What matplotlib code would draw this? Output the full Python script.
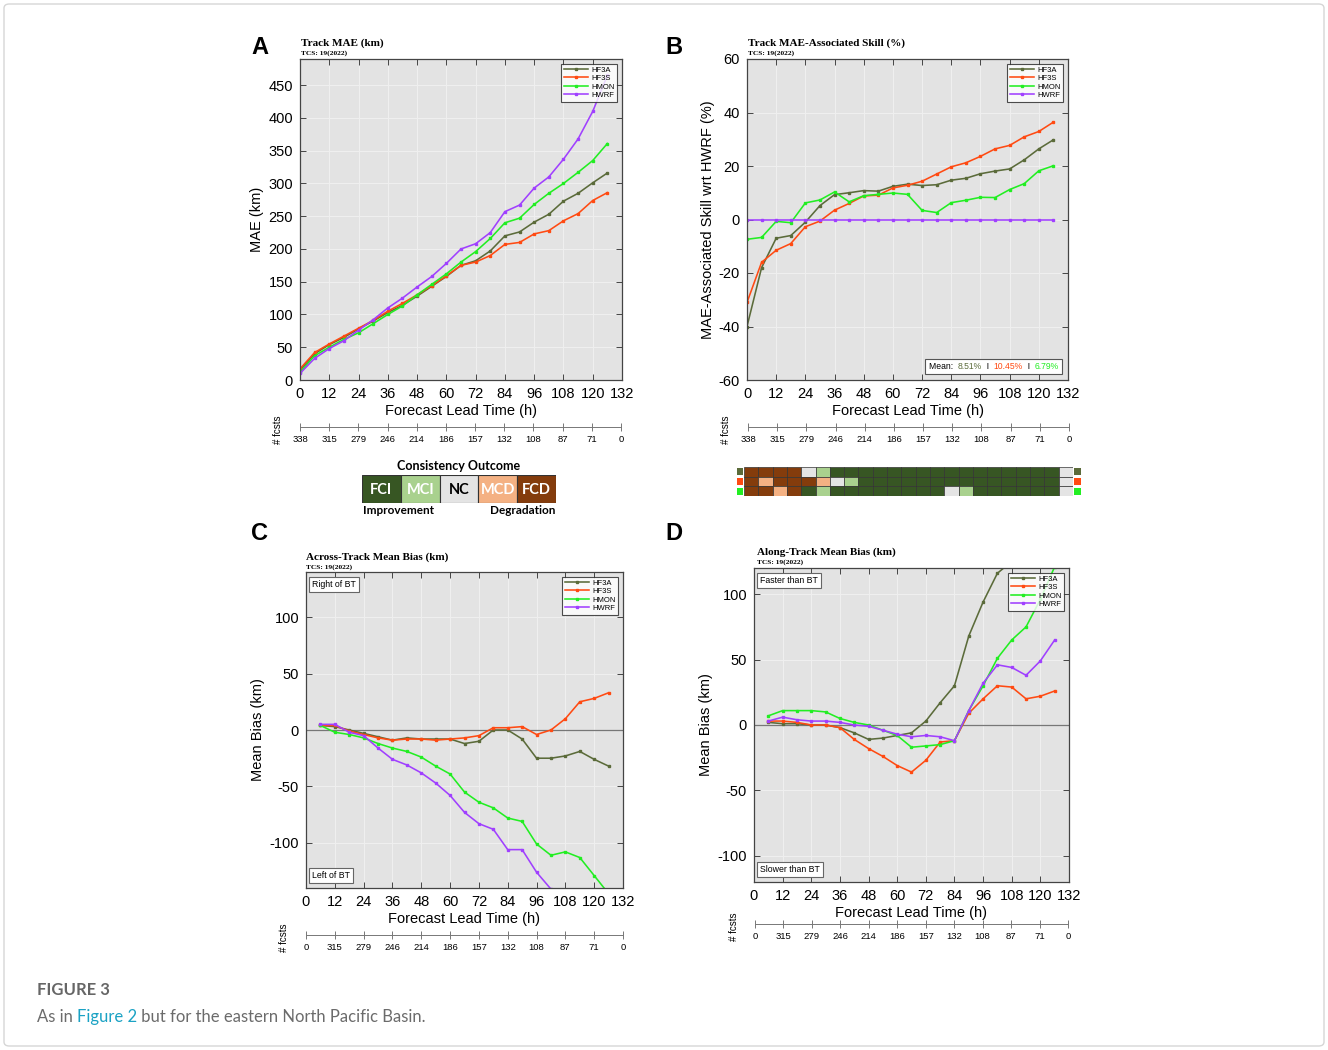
import matplotlib
matplotlib.use('Agg')
import matplotlib.pyplot as plt
from matplotlib.patches import Rectangle, FancyBboxPatch
from matplotlib.offsetbox import AnchoredOffsetbox, HPacker, TextArea

W, H = 1328, 1050

# ---- data ----
models = ['HF3A', 'HF3S', 'HMON', 'HWRF']
model_colors = ['#5b6b3a', '#ff4a12', '#22ee22', '#a040ff']

hours = list(range(0, 127, 6))
hours_bias = list(range(6, 127, 6))
tick_hours = list(range(0, 133, 12))
fcsts = ['338', '315', '279', '246', '214', '186', '157', '132', '108', '87', '71', '0']
fcsts_bias = ['0', '315', '279', '246', '214', '186', '157', '132', '108', '87', '71', '0']

# track MAE (km)
mae_hf3a = [15, 40, 54, 65, 78, 90, 103, 114, 128, 143, 158, 175, 182, 197, 220, 226, 241, 253, 273, 285, 301, 316]
mae_hf3s = [17, 42, 55, 67, 79, 91, 105, 117, 130, 144, 159, 175, 180, 190, 207, 210, 223, 228, 243, 254, 274, 286]
mae_hmon = [12, 37, 50, 62, 72, 86, 100, 113, 130, 146, 162, 180, 196, 216, 240, 247, 268, 285, 300, 317, 335, 361]
mae_hwrf = [10, 33, 48, 60, 76, 92, 110, 125, 142, 158, 178, 200, 208, 225, 257, 267, 293, 310, 337, 368, 410, 465]

# skill wrt HWRF (%)
skill_hf3a = [-40, -18, -7, -6, -1, 5.2, 9.3, 10, 10.8, 10.6, 12.4, 13.2, 12.7, 13, 14.7, 15.4, 17.1, 18.1, 18.9, 22.3, 26.4, 29.8]
skill_hf3s = [-31, -16, -11.5, -9, -2.7, -0.6, 3.5, 6, 8.8, 9.1, 11.8, 12.8, 14.3, 17, 19.7, 21.2, 23.6, 26.4, 27.7, 30.9, 32.9, 36.4]
skill_hmon = [-7.4, -6.7, -0.7, -1.2, 6.2, 7.3, 10.3, 6.6, 8.9, 9.4, 9.9, 9.4, 3.4, 2.6, 6.3, 7.2, 8.3, 8.2, 11.2, 13.4, 18.2, 20.1]
skill_hwrf = [0] * 22
skill_means = ['8.51%', '10.45%', '6.79%']

# consistency outcomes, 0..132 h
outcome_hf3a = ['FCD'] * 4 + ['NC', 'MCI'] + ['FCI'] * 16 + ['NC']
outcome_hf3s = ['FCD', 'MCD', 'FCD', 'FCD', 'FCD', 'MCD', 'NC', 'MCI'] + ['FCI'] * 14 + ['NC']
outcome_hmon = ['FCD', 'FCD', 'MCD', 'FCD', 'FCI', 'MCI'] + ['FCI'] * 8 + ['NC', 'MCI'] + ['FCI'] * 6 + ['NC']
outcome_names = ['FCI', 'MCI', 'NC', 'MCD', 'FCD']
outcome_colors = {'FCI': '#375623', 'MCI': '#a9d18e', 'NC': '#e4e4e4', 'MCD': '#f4b183', 'FCD': '#843c0c'}

# across-track bias (km), 6..126 h
ct_hf3a = [4, 3, 0, -3, -6, -9, -7, -8, -8, -8, -12, -10, 0, 0, -8, -25, -25, -23, -19, -26, -32]
ct_hf3s = [4, 4, -1, -4, -7, -9, -8, -8, -9, -8, -7, -5, 2, 2, 3, -4, 0, 10, 25, 28, 33]
ct_hmon = [4, -2, -4, -7, -12, -16, -19, -24, -32, -39, -55, -64, -69, -78, -81, -101, -111, -108, -113, -129, -145]
ct_hwrf = [5, 5, -2, -5, -16, -26, -31, -38, -47, -58, -73, -83, -88, -106, -106, -126, -141]

# along-track bias (km), 6..126 h
at_hf3a = [2, 1, 1, 0, 0, -2, -6, -11, -10, -8, -6, 3, 17, 30, 68, 94, 116, 125]
at_hf3s = [3, 3, 2, 0, 0, -2, -11, -18, -24, -31, -36, -27, -13, -12, 9, 20, 30, 29, 20, 22, 26]
at_hmon = [7, 11, 11, 11, 10, 5, 2, 0, -4, -8, -17, -16, -15, -12, 11, 30, 51, 65, 75, 96, 121]
at_hwrf = [3, 6, 4, 3, 3, 2, 0, -1, -4, -7, -9, -8, -9, -12, 11, 32, 46, 44, 38, 49, 65]

SANS = 'Liberation Sans'
SERIF = 'Liberation Serif'
plt.rcParams['font.family'] = SANS
plt.rcParams['axes.unicode_minus'] = False


def box(x0, y0, x1, y1):
    return [x0 / W, 1 - y1 / H, (x1 - x0) / W, (y1 - y0) / H]


fig = plt.figure(figsize=(W / 100, H / 100), dpi=100)

# light frame round the figure
fig.patches.append(FancyBboxPatch((4 / W, 4 / H), 1 - 8 / W, 1 - 8 / H,
                                  boxstyle='round,pad=0,rounding_size=0.004',
                                  transform=fig.transFigure, fc='none', ec='#d6d6d6', lw=1))


def style(ax, ylim, yticks, ylabel):
    ax.set_facecolor('#e3e3e3')
    ax.set_xlim(0, 132)
    ax.set_xticks(tick_hours)
    ax.set_ylim(*ylim)
    ax.set_yticks(yticks)
    ax.grid(True, color='#f0f0f0', lw=0.7)
    ax.set_axisbelow(True)
    ax.tick_params(direction='in', top=True, right=True, length=4, width=0.7,
                   labelsize=10.5, pad=5, color='#444')
    for s in ax.spines.values():
        s.set_color('#444')
        s.set_linewidth(0.9)
    ax.set_xlabel('Forecast Lead Time (h)', fontsize=10.5, labelpad=2)
    ax.set_ylabel(ylabel, fontsize=10.5, labelpad=3)


def draw_lines(ax, xs_list, ys_list):
    for name, col, xs, ys in zip(models, model_colors, xs_list, ys_list):
        ax.plot(xs, ys, color=col, lw=1.15, marker='s', ms=1.7, label=name)
    leg = ax.legend(loc='upper right', fontsize=5.5, frameon=True, fancybox=False,
                    borderpad=0.35, labelspacing=0.15, handlelength=3.2,
                    handletextpad=0.4, borderaxespad=0.6)
    leg.get_frame().set_edgecolor('#222')
    leg.get_frame().set_linewidth(0.8)
    leg.set_zorder(10)


def titles(x, y, text):
    fig.text(x / W, 1 - y / H, text, fontsize=8, fontweight='bold', family=SERIF, va='center')
    fig.text(x / W, 1 - (y + 10) / H, 'TCS: 19(2022)', fontsize=5.3, fontweight='bold',
             family=SERIF, va='center')


def fcsts_axis(x0, x1, y, labels, lab_x):
    ax = fig.add_axes(box(x0, y - 0.5, x1, y + 0.5))
    ax.set_xlim(0, 132)
    ax.set_xticks(tick_hours)
    ax.set_xticklabels(labels)
    ax.set_yticks([])
    ax.patch.set_visible(False)
    for s in ['top', 'left', 'right']:
        ax.spines[s].set_visible(False)
    ax.spines['bottom'].set_color('#777')
    ax.spines['bottom'].set_linewidth(0.7)
    ax.tick_params(axis='x', direction='inout', length=6, width=0.7, color='#777',
                   labelsize=6.8, pad=3)
    fig.text(lab_x / W, 1 - (y + 4) / H, '# fcsts', rotation=90, fontsize=7,
             ha='center', va='center')


def corner_note(ax, text, where):
    y, va = (0.975, 'top') if where == 'top' else (0.025, 'bottom')
    ax.text(0.02, y, text, transform=ax.transAxes, fontsize=6.3, va=va, ha='left', zorder=12,
            bbox=dict(boxstyle='square,pad=0.35', fc='white', ec='#666', lw=0.8))


# ---- panel A ----
axA = fig.add_axes(box(300, 59, 622, 380))
style(axA, (0, 490), range(0, 451, 50), 'MAE (km)')
draw_lines(axA, [hours] * 4, [mae_hf3a, mae_hf3s, mae_hmon, mae_hwrf])
titles(301, 43, 'Track MAE (km)')
fcsts_axis(300, 621, 426, fcsts, 278)

# ---- panel B ----
axB = fig.add_axes(box(747, 59, 1068, 380))
style(axB, (-60, 60), range(-60, 61, 20), 'MAE-Associated Skill wrt HWRF (%)')
draw_lines(axB, [hours] * 4, [skill_hf3a, skill_hf3s, skill_hmon, skill_hwrf])
titles(748, 43, 'Track MAE-Associated Skill (%)')
fcsts_axis(748, 1069, 426, fcsts, 726)

parts = [('Mean:  ', 'black')]
for m, col in zip(skill_means, model_colors[:3]):
    if len(parts) > 1:
        parts.append(('  I  ', 'black'))
    parts.append((m, col))
packer = HPacker(children=[TextArea(t, textprops=dict(color=c, fontsize=6.2)) for t, c in parts],
                 align='baseline', pad=0, sep=0)
mean_box = AnchoredOffsetbox(loc='lower right', child=packer, pad=0.25, borderpad=0.4, frameon=True)
mean_box.patch.set_edgecolor('#555')
mean_box.patch.set_linewidth(0.8)
mean_box.set_zorder(11)
axB.add_artist(mean_box)

# ---- consistency scorecard under B ----
axS = fig.add_axes(box(744, 467, 1073, 496))
axS.set_xlim(0, 23)
axS.set_ylim(3, 0)
axS.axis('off')
for r, (row, col) in enumerate(zip([outcome_hf3a, outcome_hf3s, outcome_hmon], model_colors)):
    for c, code in enumerate(row):
        axS.add_patch(Rectangle((c, r), 1, 1, fc=outcome_colors[code], ec='#333', lw=0.5))
    for xm in (-0.5, 23.08):
        axS.add_patch(Rectangle((xm, r + 0.15), 0.45, 0.7, fc=col, ec='none', clip_on=False))

# ---- consistency legend ----
axL = fig.add_axes(box(362, 475, 556, 503))
axL.set_xlim(0, 5)
axL.set_ylim(0, 1)
axL.axis('off')
for i, name in enumerate(outcome_names):
    axL.add_patch(Rectangle((i, 0), 1, 1, fc=outcome_colors[name], ec='#333', lw=0.8))
    axL.text(i + 0.5, 0.47, name, ha='center', va='center', fontsize=10.5, fontweight='bold',
             family='Lato', color='black' if name == 'NC' else 'white')
fig.text(459 / W, 1 - 466 / H, 'Consistency Outcome', ha='center', va='center',
         fontsize=9, fontweight='bold', family='Lato')
fig.text(363 / W, 1 - 511 / H, 'Improvement', ha='left', va='center',
         fontsize=8.5, fontweight='bold', family='Lato')
fig.text(555 / W, 1 - 511 / H, 'Degradation', ha='right', va='center',
         fontsize=8.5, fontweight='bold', family='Lato')

# ---- panel C ----
axC = fig.add_axes(box(306, 572, 623, 888))
style(axC, (-140, 140), range(-100, 101, 50), 'Mean Bias (km)')
draw_lines(axC, [hours_bias[:len(v)] for v in (ct_hf3a, ct_hf3s, ct_hmon, ct_hwrf)],
           [ct_hf3a, ct_hf3s, ct_hmon, ct_hwrf])
axC.axhline(0, color='#777', lw=0.9, zorder=1.5)
corner_note(axC, 'Right of BT', 'top')
corner_note(axC, 'Left of BT', 'bottom')
titles(306, 557, 'Across-Track Mean Bias (km)')
fcsts_axis(306, 623, 934, fcsts_bias, 284)

# ---- panel D ----
axD = fig.add_axes(box(754, 568, 1069, 882))
style(axD, (-120, 120), range(-100, 101, 50), 'Mean Bias (km)')
draw_lines(axD, [hours_bias[:len(v)] for v in (at_hf3a, at_hf3s, at_hmon, at_hwrf)],
           [at_hf3a, at_hf3s, at_hmon, at_hwrf])
axD.axhline(0, color='#777', lw=0.9, zorder=1.5)
corner_note(axD, 'Faster than BT', 'top')
corner_note(axD, 'Slower than BT', 'bottom')
titles(757, 552, 'Along-Track Mean Bias (km)')
fcsts_axis(755, 1068, 923, fcsts_bias, 734)

# ---- panel letters ----
for letter, x, y in [('A', 260, 47), ('B', 674, 47), ('C', 259, 534), ('D', 674, 534)]:
    fig.text(x / W, 1 - y / H, letter, fontsize=17, fontweight='bold', ha='center', va='center')

# ---- caption ----
fig.text(37 / W, 1 - 990 / H, 'FIGURE 3', fontsize=12, fontweight='bold', color='#666666',
         family='Lato', va='center')
t1 = fig.text(37 / W, 1 - 1022 / H, 'As in ', fontsize=12, color='#6b6b6b', family='Lato')
a2 = plt.annotate('Figure 2', xy=(1, 0), xycoords=t1, va='bottom', ha='left', fontsize=12,
                  color='#1aa2c4', family='Lato', annotation_clip=False)
a3 = plt.annotate(' but for the eastern North Pacific Basin.', xy=(1, 0), xycoords=a2,
                  va='bottom', ha='left', fontsize=12, color='#6b6b6b', family='Lato',
                  annotation_clip=False)

fig.savefig('out.png', dpi=100)
